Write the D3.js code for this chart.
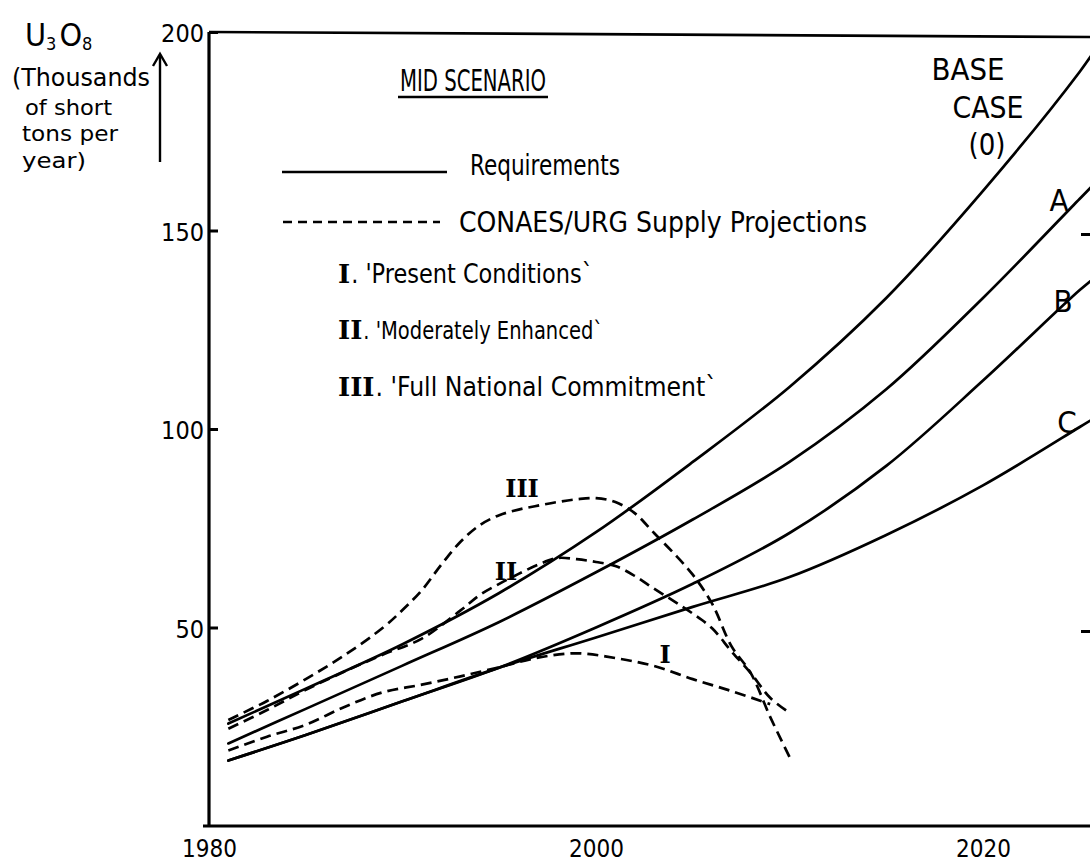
<!DOCTYPE html>
<html><head><meta charset="utf-8">
<script src="https://cdn.jsdelivr.net/npm/d3@7"></script>
<style>
body{margin:0;background:#fff;}
svg{display:block;background:#fff;}
text{font-family:"DejaVu Sans Condensed","DejaVu Sans",sans-serif;font-stretch:condensed;fill:#000;}
.rn{font-family:"DejaVu Serif","Liberation Serif",serif;font-weight:bold;font-stretch:normal;}
</style></head><body>
<svg id="chart" width="1090" height="867"></svg>
<script>
// ---- data ----
const reqYears = [1981, 1985, 1990, 1995, 2000, 2005, 2010, 2015, 2020, 2025, 2026];
const reqBase  = [25.8, 34.6, 45.8, 58.7, 74.0, 91.7, 110.6, 133.0, 160.0, 190.0, 197.0];
const reqA     = [20.8, 29.5, 40.4, 51.4, 63.9, 77.2, 91.7, 110.0, 133.0, 158.0, 163.0];
const reqB     = [16.5, 22.9, 31.4, 39.9, 50.0, 61.0, 73.8, 90.7, 112.2, 135.0, 139.0];
const reqC     = [16.5, 22.9, 31.4, 39.9, 47.5, 55.2, 62.7, 73.3, 85.8, 100.5, 103.5];

const supIYears = [1981, 1983, 1985, 1987, 1989, 1991, 1993, 1995, 1997, 1999, 2001, 2003, 2005, 2007, 2009];
const supI      = [19.0, 22.5, 25.5, 30.0, 33.7, 35.6, 37.7, 40.0, 42.4, 43.5, 42.3, 40.3, 37.0, 34.0, 30.7];

const supIIYears = [1981, 1983, 1985, 1987, 1989, 1991, 1993, 1994, 1995, 1996, 1997, 1998, 1999, 2000, 2001, 2002, 2003, 2004, 2005, 2006, 2007, 2008, 2009, 2010];
const supII      = [24.5, 29.2, 34.3, 38.9, 43.2, 47.2, 54.3, 58.2, 61.0, 63.5, 65.8, 67.5, 67.2, 66.5, 65.5, 63.0, 59.8, 56.7, 53.5, 49.8, 44.0, 38.5, 32.3, 28.5];

const supIIIYears = [1981, 1983, 1985, 1987, 1989, 1990, 1991, 1992, 1993, 1994, 1995, 1996, 1997, 1998, 1999, 2000, 2001, 2002, 2003, 2004, 2005, 2006, 2007, 2008, 2009, 2010];
const supIII      = [26.7, 31.5, 37.0, 43.0, 50.0, 54.4, 59.4, 65.8, 71.6, 75.8, 78.3, 79.7, 80.7, 81.6, 82.3, 82.6, 81.6, 78.8, 73.8, 68.8, 63.3, 56.0, 45.3, 38.5, 27.5, 17.4];

const yTicks = [50, 100, 150, 200];
const xTicks = [1980, 2000, 2020];
const rightTicks = [50, 150];

const legendNumerals = ["I", "II", "III"];
const legendNames = ["'Present Conditions`", "'Moderately Enhanced`", "'Full National Commitment`"];

// ---- chart ----
const svg = d3.select("#chart");
const x = d3.scaleLinear().domain([1980, 2020]).range([209, 983]);
const y = d3.scaleLinear().domain([0, 200]).range([826, 32]);

const line = d3.line().x(d => x(d[0])).y(d => y(d[1])).curve(d3.curveCatmullRom.alpha(0.5));
const zip = (a, b) => a.map((v, i) => [v, b[i]]);

[reqBase, reqA, reqB, reqC].forEach(s => {
  svg.append("path").attr("d", line(zip(reqYears, s)))
    .attr("fill", "none").attr("stroke", "#000").attr("stroke-width", 2.7).attr("stroke-linecap", "round");
});
[[supIYears, supI], [supIIYears, supII], [supIIIYears, supIII]].forEach(([yr, s]) => {
  svg.append("path").attr("d", line(zip(yr, s)))
    .attr("fill", "none").attr("stroke", "#000").attr("stroke-width", 2.7)
    .attr("stroke-dasharray", "11,6");
});

// axes
const yAxis = d3.axisLeft(y).tickValues(yTicks).tickSizeInner(-9).tickSizeOuter(0).tickPadding(5);
const gy = svg.append("g").attr("transform", `translate(${x(1980)},0)`).call(yAxis);
gy.select(".domain").remove();
gy.selectAll(".tick line").attr("stroke", "#000").attr("stroke-width", 3);
gy.selectAll("text").attr("font-size", 25).attr("fill", "#000").attr("dy", "0.38em");

const xAxis = d3.axisBottom(x).tickValues(xTicks).tickSize(0).tickPadding(14).tickFormat(d3.format("d"));
const gx = svg.append("g").attr("transform", `translate(0,${y(0)})`).call(xAxis);
gx.select(".domain").remove();
gx.selectAll("text").attr("font-size", 24).attr("fill", "#000");

// frame lines
svg.append("line").attr("x1", x(1980)).attr("y1", y(200)).attr("x2", x(1980)).attr("y2", y(0))
  .attr("stroke", "#000").attr("stroke-width", 3.2);
svg.append("line").attr("x1", x(1980) - 6).attr("y1", y(0)).attr("x2", 1090).attr("y2", y(0))
  .attr("stroke", "#000").attr("stroke-width", 3.2);
svg.append("line").attr("x1", x(1980)).attr("y1", y(200)).attr("x2", 1090).attr("y2", y(200) + 5)
  .attr("stroke", "#000").attr("stroke-width", 2.7);
rightTicks.forEach(t => {
  svg.append("line").attr("x1", 1081).attr("x2", 1090).attr("y1", y(t) + 4).attr("y2", y(t) + 4)
    .attr("stroke", "#000").attr("stroke-width", 3);
});

// y-axis title
const t1 = svg.append("text").attr("x", 25).attr("y", 46);
t1.append("tspan").attr("font-size", 32).text("U");
t1.append("tspan").attr("font-size", 18).attr("dy", 4).text("3");
t1.append("tspan").attr("font-size", 32).attr("dy", -4).attr("dx", 3).text("O");
t1.append("tspan").attr("font-size", 18).attr("dy", 4).text("8");
[["(Thousands", 12, 86, 24, 138], ["of short", 25, 115, 22, 87], ["tons per", 22, 141, 22, 96], ["year)", 22, 168, 22, 64]].forEach(([s, tx, ty, fs, w]) => {
  svg.append("text").attr("x", tx).attr("y", ty).attr("font-size", fs)
    .attr("textLength", w).attr("lengthAdjust", "spacingAndGlyphs").text(s);
});
svg.append("line").attr("x1", 160).attr("x2", 160).attr("y1", 162).attr("y2", 56).attr("stroke", "#000").attr("stroke-width", 2.4);
svg.append("path").attr("d", "M153,66 L160,54 L167,66").attr("fill", "none").attr("stroke", "#000").attr("stroke-width", 2.4);

// title
svg.append("text").attr("x", 400).attr("y", 91).attr("font-size", 31).attr("textLength", 146).attr("lengthAdjust", "spacingAndGlyphs").text("MID SCENARIO");
svg.append("line").attr("x1", 398).attr("x2", 548).attr("y1", 97).attr("y2", 97).attr("stroke", "#000").attr("stroke-width", 2.4);

// legend
svg.append("line").attr("x1", 282).attr("x2", 447).attr("y1", 172).attr("y2", 172).attr("stroke", "#000").attr("stroke-width", 2.7);
svg.append("text").attr("x", 470).attr("y", 175).attr("font-size", 28).attr("textLength", 150).attr("lengthAdjust", "spacingAndGlyphs").text("Requirements");
svg.append("line").attr("x1", 283).attr("x2", 440).attr("y1", 222).attr("y2", 222).attr("stroke", "#000").attr("stroke-width", 2.7).attr("stroke-dasharray", "9,6");
svg.append("text").attr("x", 459).attr("y", 232).attr("font-size", 28).attr("textLength", 408).attr("lengthAdjust", "spacingAndGlyphs").text("CONAES/URG  Supply Projections");

const legBase = [283, 339, 396];
const legEnd = [593, 603, 717];
const legSize = [26, 25, 26];
legendNumerals.forEach((rn, i) => {
  const n = svg.append("text").attr("class", "rn").attr("x", 338).attr("y", legBase[i]).attr("font-size", 26).text(rn);
  const w = n.node().getComputedTextLength();
  const start = 338 + w + 1;
  svg.append("text").attr("x", start).attr("y", legBase[i]).attr("font-size", legSize[i])
    .attr("textLength", legEnd[i] - start).attr("lengthAdjust", "spacingAndGlyphs")
    .text(". " + legendNames[i]);
});

// curve labels
svg.append("text").attr("class", "rn").attr("x", 522).attr("y", 497).attr("font-size", 24).attr("text-anchor", "middle").text("III");
svg.append("text").attr("class", "rn").attr("x", 506).attr("y", 580).attr("font-size", 24).attr("text-anchor", "middle").text("II");
svg.append("text").attr("class", "rn").attr("x", 665).attr("y", 663).attr("font-size", 24).attr("text-anchor", "middle").text("I");

[["BASE", 968, 80, 73], ["CASE", 988, 118, 71], ["(0)", 987, 155, 37]].forEach(([s, tx, ty, w]) => {
  svg.append("text").attr("x", tx).attr("y", ty).attr("font-size", 30).attr("text-anchor", "middle")
    .attr("textLength", w).attr("lengthAdjust", "spacingAndGlyphs").text(s);
});
[["A", 1059, 211], ["B", 1063, 312], ["C", 1067, 433]].forEach(([s, tx, ty]) => {
  svg.append("text").attr("x", tx).attr("y", ty).attr("font-size", 31).attr("text-anchor", "middle").text(s);
});
</script>
</body></html>
